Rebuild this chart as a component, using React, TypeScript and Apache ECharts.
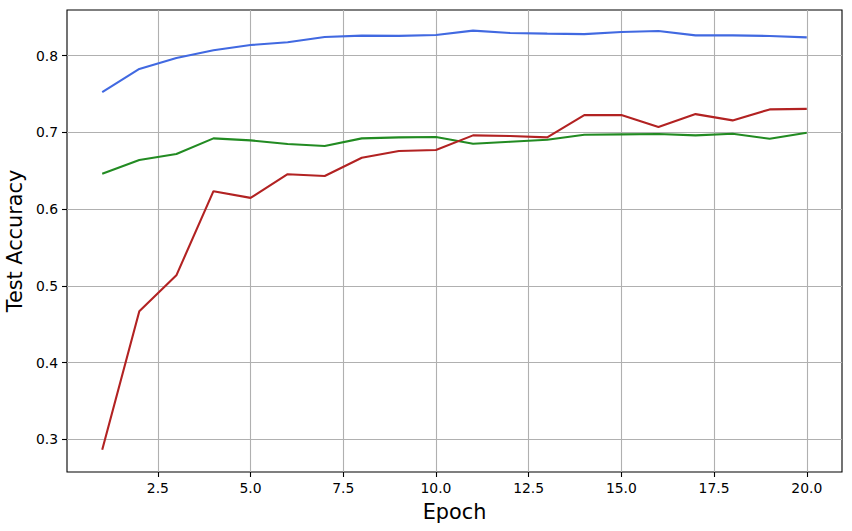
import React, { useEffect, useRef } from "react";
import * as echarts from "echarts";

const epochs = [1, 2, 3, 4, 5, 6, 7, 8, 9, 10, 11, 12, 13, 14, 15, 16, 17, 18, 19, 20];
const blueAcc = [0.7523, 0.7826, 0.797, 0.8069, 0.8138, 0.8173, 0.8242, 0.826, 0.8257, 0.8268, 0.8325, 0.8294, 0.8286, 0.828, 0.8307, 0.832, 0.8264, 0.8264, 0.8255, 0.8238];
const greenAcc = [0.6462, 0.664, 0.6718, 0.6922, 0.6896, 0.6848, 0.6822, 0.6922, 0.6935, 0.6939, 0.6852, 0.6878, 0.6904, 0.6969, 0.6974, 0.6978, 0.6961, 0.6982, 0.6917, 0.6995];
const redAcc = [0.2865, 0.467, 0.5138, 0.6234, 0.6147, 0.6455, 0.6432, 0.667, 0.6757, 0.677, 0.6961, 0.6952, 0.6935, 0.7225, 0.7225, 0.7069, 0.7238, 0.7156, 0.7299, 0.7306];
const xTicks = [2.5, 5, 7.5, 10, 12.5, 15, 17.5, 20];
const yTicks = [0.3, 0.4, 0.5, 0.6, 0.7, 0.8];

const FONT = "DejaVu Sans";

export default function App() {
  const ref = useRef<HTMLDivElement>(null);
  useEffect(() => {
    if (!ref.current) return;
    const chart = echarts.init(ref.current, null, { renderer: "svg" });
    const mk = (vals: number[], color: string) => ({
      type: "line",
      data: epochs.map((e, i) => [e, vals[i]]),
      showSymbol: false,
      symbol: "none",
      lineStyle: { color, width: 2.1 },
      itemStyle: { color },
    });
    chart.setOption({
      animation: false,
      textStyle: { fontFamily: FONT },
      grid: {
        left: 67,
        right: 10,
        top: 10,
        bottom: 59,
        containLabel: false,
        outerBoundsMode: "none",
        show: true,
        borderColor: "#000",
        borderWidth: 1.1,
        backgroundColor: "transparent",
      },
      xAxis: {
        type: "value",
        min: 0.05,
        max: 20.95,
        name: "Epoch",
        nameLocation: "middle",
        nameGap: 29,
        nameTextStyle: { fontSize: 20.8, color: "#000", fontFamily: FONT },
        axisLine: { show: false },
        axisTick: { show: true, customValues: xTicks, length: 5, lineStyle: { color: "#000", width: 1.1 } },
        axisLabel: {
          customValues: xTicks,
          fontSize: 13.9,
          color: "#000",
          margin: 9,
          fontFamily: FONT,
          formatter: (v: number) => v.toFixed(1),
        },
        splitLine: { show: true, lineStyle: { color: "#b0b0b0", width: 1.1 } },
      },
      yAxis: {
        type: "value",
        min: 0.2576,
        max: 0.8594,
        name: "Test Accuracy",
        nameLocation: "middle",
        nameGap: 35,
        nameRotate: 90,
        nameTextStyle: { fontSize: 20.8, color: "#000", fontFamily: FONT },
        axisLine: { show: false },
        axisTick: { show: true, customValues: yTicks, length: 5, lineStyle: { color: "#000", width: 1.1 } },
        axisLabel: {
          customValues: yTicks,
          fontSize: 13.9,
          color: "#000",
          margin: 9,
          fontFamily: FONT,
          formatter: (v: number) => v.toFixed(1),
        },
        splitLine: { show: true, lineStyle: { color: "#b0b0b0", width: 1.1 } },
      },
      series: [mk(blueAcc, "#4169e1"), mk(greenAcc, "#228b22"), mk(redAcc, "#b22222")],
    });
    return () => chart.dispose();
  }, []);
  return <div ref={ref} style={{ width: 852, height: 531, position: "absolute", left: 0, top: 0 }} />;
}
